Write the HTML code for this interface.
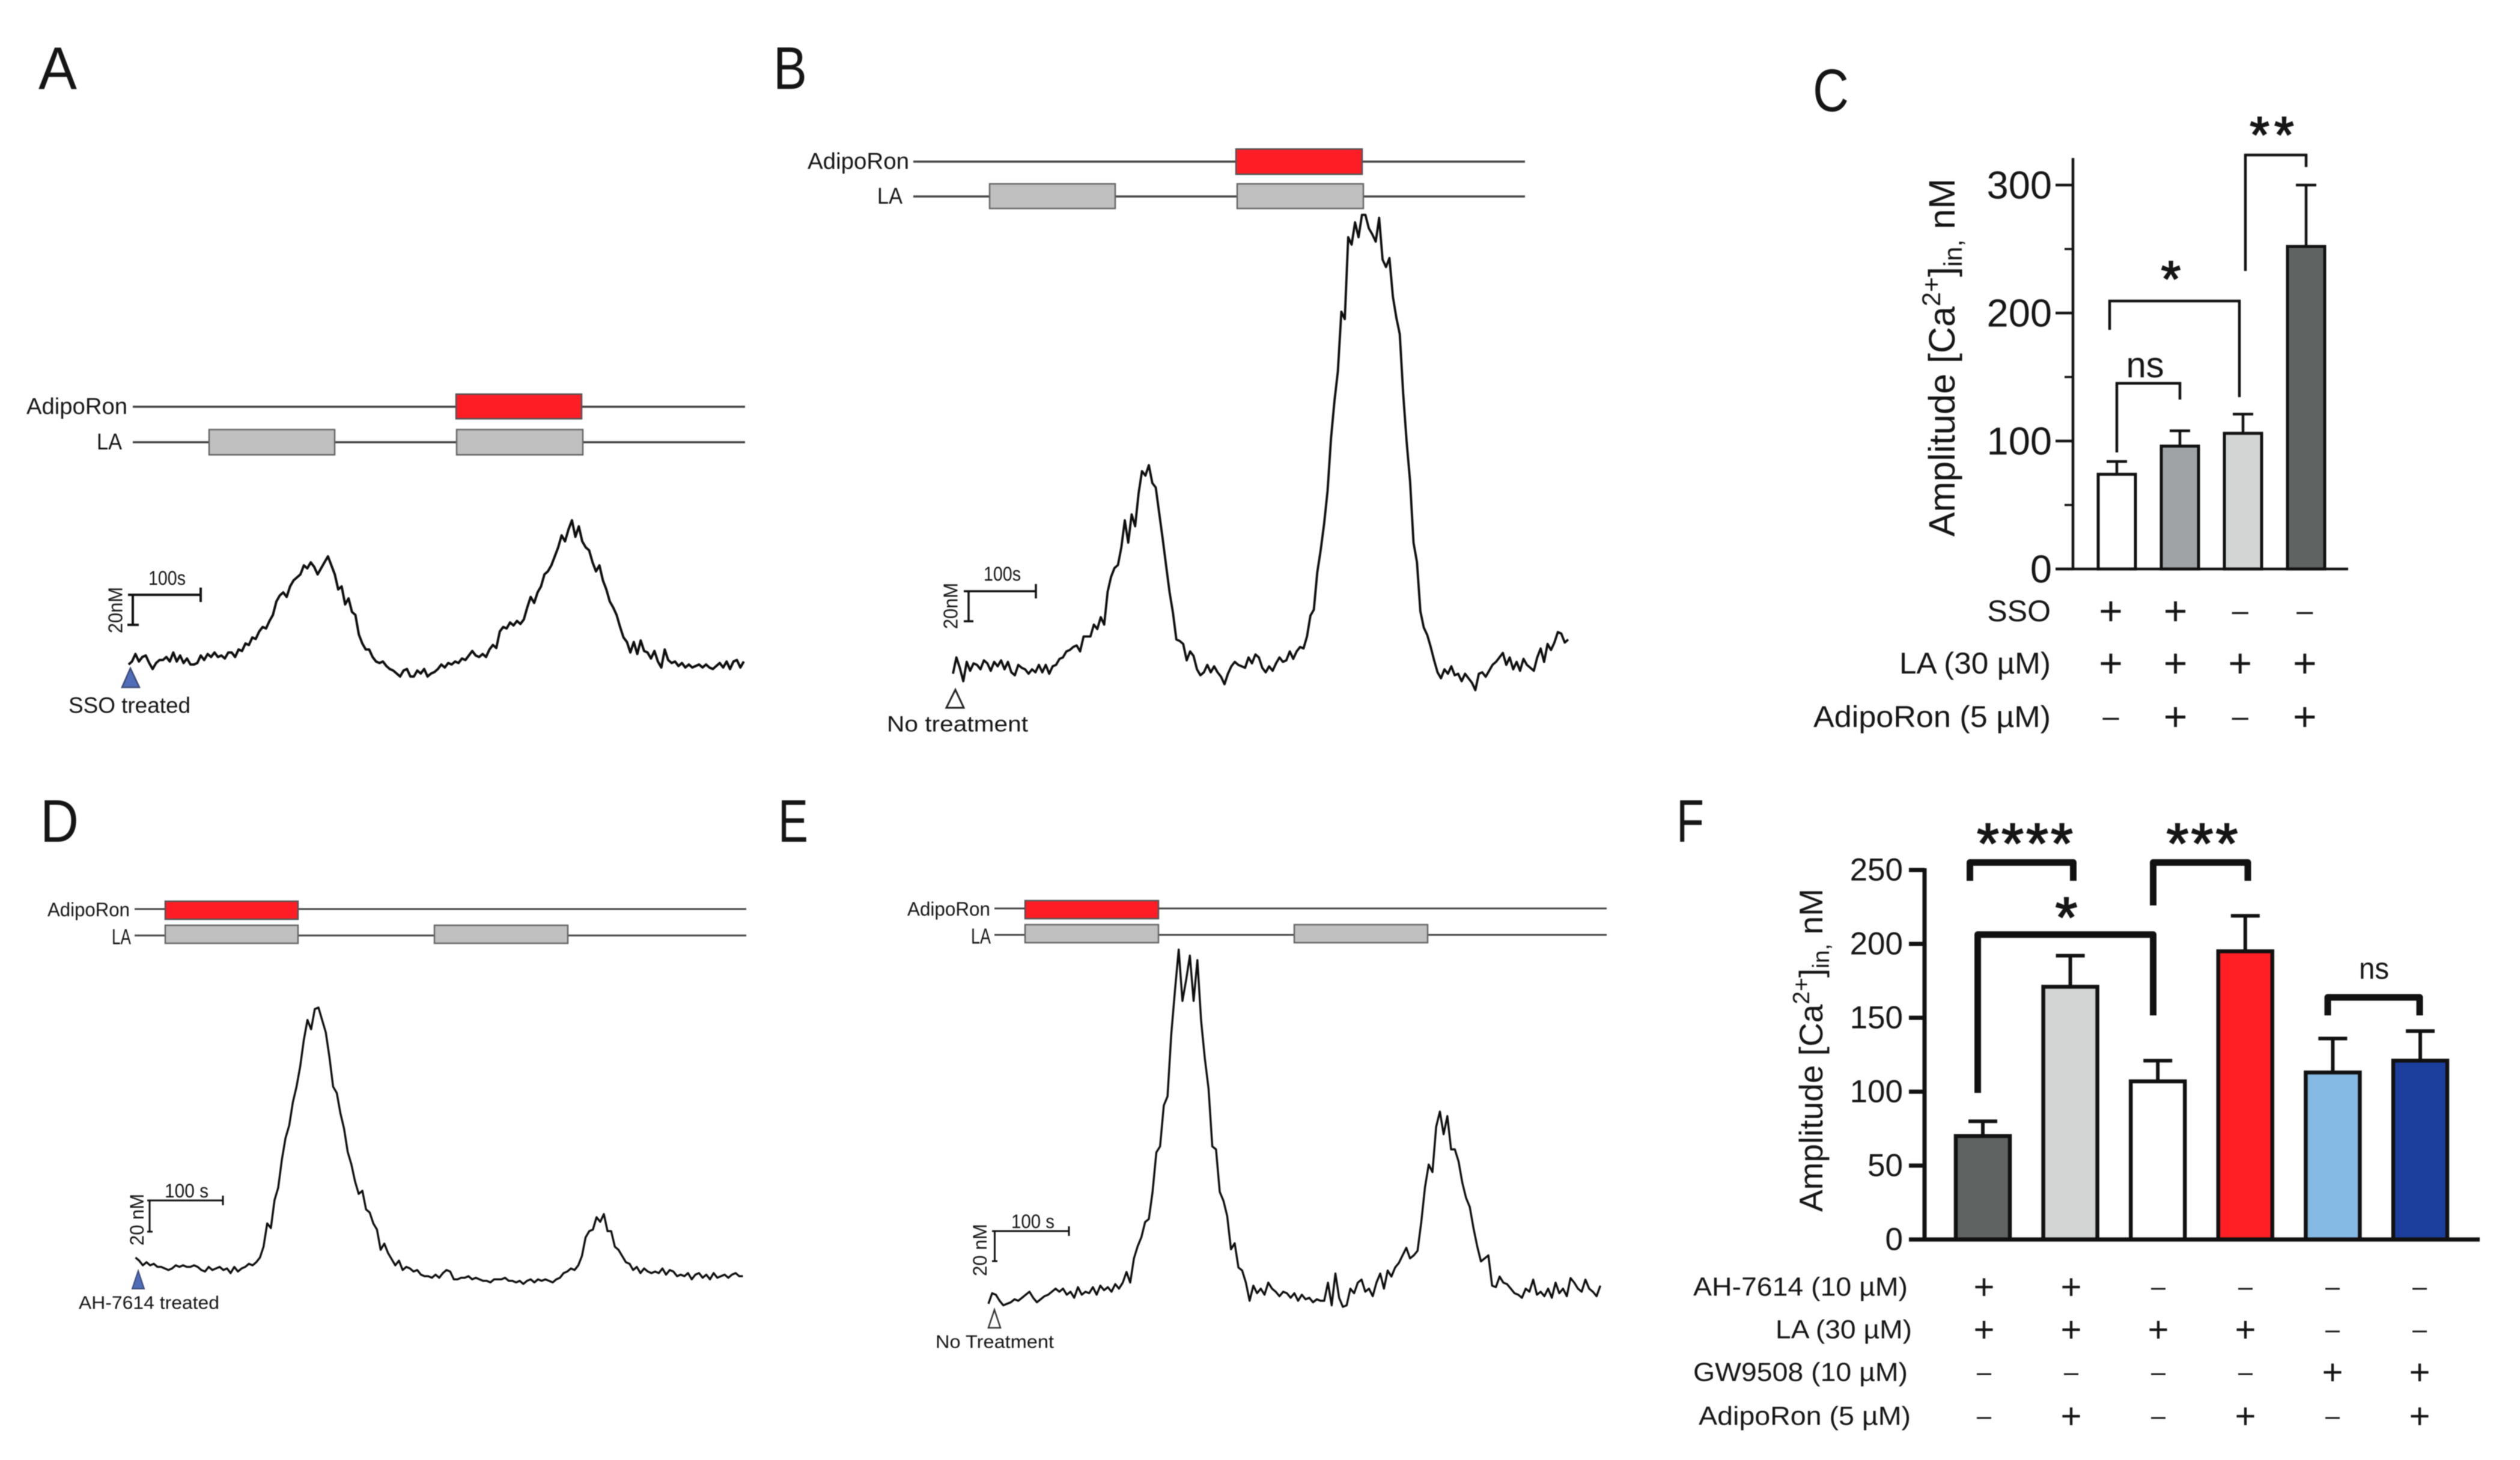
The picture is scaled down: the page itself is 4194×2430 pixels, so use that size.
<!DOCTYPE html>
<html lang="en">
<head>
<meta charset="utf-8">
<title>AdipoRon calcium response panels</title>
<style>
html,body{margin:0;padding:0;background:#fff;}
svg{display:block;filter:blur(0.7px);}
text{font-family:"Liberation Sans",sans-serif;fill:#151515;}
.lbl{dominant-baseline:central;}
.tline{stroke:#444;stroke-width:3.5;fill:none;}
.red{fill:#ff1d25;stroke:#555;stroke-width:2.5;}
.gry{fill:#c0c0c0;stroke:#666;stroke-width:2.5;}
.scale{stroke:#111;fill:none;}
.brk{fill:none;stroke:#111;}
.star{stroke:#151515;stroke-width:2;}
.trace{fill:none;stroke:#0d0d0d;stroke-linejoin:round;}
</style>
</head>
<body>
<svg id="fig" xmlns="http://www.w3.org/2000/svg" width="4194" height="2430" viewBox="0 0 4194 2430">
<rect width="4194" height="2430" fill="#fff"/>

<!-- Panel letters -->
<text x="64" y="148" font-size="100" textLength="64" lengthAdjust="spacingAndGlyphs">A</text>
<text x="1287" y="148" font-size="100" textLength="56" lengthAdjust="spacingAndGlyphs">B</text>
<text x="3017" y="185" font-size="100" textLength="60" lengthAdjust="spacingAndGlyphs">C</text>
<text x="67" y="1401" font-size="100" textLength="64" lengthAdjust="spacingAndGlyphs">D</text>
<text x="1295" y="1401" font-size="100" textLength="50" lengthAdjust="spacingAndGlyphs">E</text>
<text x="2790" y="1401" font-size="100" textLength="46" lengthAdjust="spacingAndGlyphs">F</text>

<!-- Panel A protocol -->
<g>
<line class="tline" x1="221" y1="677" x2="1240" y2="677"/>
<line class="tline" x1="221" y1="736" x2="1240" y2="736"/>
<rect class="red" x="759" y="656" width="209" height="41"/>
<rect class="gry" x="348" y="715" width="209" height="42"/>
<rect class="gry" x="760" y="715" width="210" height="42"/>
<text class="lbl" x="44" y="677" font-size="38" textLength="168" lengthAdjust="spacingAndGlyphs">AdipoRon</text>
<text class="lbl" x="161" y="736" font-size="38" textLength="42" lengthAdjust="spacingAndGlyphs">LA</text>
</g>
<g>
<path class="scale" stroke-width="4" d="M221 990V1040M212 1040H231M213 990H334M334 978V1002"/>
<text class="lbl" x="247" y="962" font-size="33" textLength="62" lengthAdjust="spacingAndGlyphs">100s</text>
<text class="lbl" transform="translate(192 1054) rotate(-90)" font-size="33" textLength="77" lengthAdjust="spacingAndGlyphs">20nM</text>
</g>
<path d="M217 1112L232 1144H203Z" fill="#4f6db8" stroke="#3a4a78" stroke-width="2.5"/>
<text class="lbl" x="114" y="1174" font-size="37" textLength="203" lengthAdjust="spacingAndGlyphs">SSO treated</text>

<!-- Panel B protocol -->
<g>
<line class="tline" x1="1520" y1="269" x2="2538" y2="269"/>
<line class="tline" x1="1520" y1="327" x2="2538" y2="327"/>
<rect class="red" x="2057" y="248" width="210" height="42"/>
<rect class="gry" x="1647" y="306" width="209" height="41"/>
<rect class="gry" x="2059" y="306" width="210" height="41"/>
<text class="lbl" x="1344" y="269" font-size="38" textLength="169" lengthAdjust="spacingAndGlyphs">AdipoRon</text>
<text class="lbl" x="1460" y="327" font-size="38" textLength="42" lengthAdjust="spacingAndGlyphs">LA</text>
</g>
<g>
<path class="scale" stroke-width="3.5" d="M1612 984V1034M1604 1034H1620M1604 984H1724M1724 972V996"/>
<text class="lbl" x="1637" y="955" font-size="33" textLength="62" lengthAdjust="spacingAndGlyphs">100s</text>
<text class="lbl" transform="translate(1582 1047) rotate(-90)" font-size="33" textLength="77" lengthAdjust="spacingAndGlyphs">20nM</text>
</g>
<path d="M1590 1148L1604 1178H1575Z" fill="#fff" stroke="#222" stroke-width="3"/>
<text class="lbl" x="1476" y="1205" font-size="37" textLength="235" lengthAdjust="spacingAndGlyphs">No treatment</text>

<!-- Panel D protocol -->
<g>
<line class="tline" x1="224" y1="1513" x2="1242" y2="1513" style="stroke-width:3"/>
<line class="tline" x1="224" y1="1557" x2="1242" y2="1557" style="stroke-width:3"/>
<rect class="red" x="275" y="1500" width="221" height="30"/>
<rect class="gry" x="275" y="1540" width="221" height="30"/>
<rect class="gry" x="723" y="1540" width="222" height="30"/>
<text class="lbl" x="79" y="1514" font-size="32" textLength="137" lengthAdjust="spacingAndGlyphs">AdipoRon</text>
<text class="lbl" x="186" y="1559" font-size="36" textLength="32" lengthAdjust="spacingAndGlyphs">LA</text>
</g>
<g>
<path class="scale" stroke-width="3" d="M249 1998V2050M245 2050H254M245 1998H371M371 1990V2006"/>
<text class="lbl" x="274" y="1982" font-size="32" textLength="73" lengthAdjust="spacingAndGlyphs">100 s</text>
<text class="lbl" transform="translate(228 2073) rotate(-90)" font-size="32" textLength="86" lengthAdjust="spacingAndGlyphs">20 nM</text>
</g>
<path d="M230 2115L240 2145H220Z" fill="#4f6db8" stroke="#3a4a78" stroke-width="2"/>
<text class="lbl" x="131" y="2168" font-size="31" textLength="234" lengthAdjust="spacingAndGlyphs">AH-7614 treated</text>

<!-- Panel E protocol -->
<g>
<line class="tline" x1="1655" y1="1512" x2="2674" y2="1512" style="stroke-width:3"/>
<line class="tline" x1="1655" y1="1556" x2="2674" y2="1556" style="stroke-width:3"/>
<rect class="red" x="1706" y="1499" width="222" height="30"/>
<rect class="gry" x="1706" y="1539" width="222" height="30"/>
<rect class="gry" x="2154" y="1539" width="222" height="30"/>
<text class="lbl" x="1510" y="1513" font-size="32" textLength="138" lengthAdjust="spacingAndGlyphs">AdipoRon</text>
<text class="lbl" x="1616" y="1558" font-size="36" textLength="33" lengthAdjust="spacingAndGlyphs">LA</text>
</g>
<g>
<path class="scale" stroke-width="3" d="M1655.5 2049V2099M1651 2099H1660M1651 2049H1779M1779 2041V2057"/>
<text class="lbl" x="1683" y="2033" font-size="32" textLength="72" lengthAdjust="spacingAndGlyphs">100 s</text>
<text class="lbl" transform="translate(1631 2124) rotate(-90)" font-size="32" textLength="87" lengthAdjust="spacingAndGlyphs">20 nM</text>
</g>
<path d="M1655 2180L1665 2210H1645Z" fill="#fff" stroke="#333" stroke-width="2.5"/>
<text class="lbl" x="1557" y="2233" font-size="31" textLength="197" lengthAdjust="spacingAndGlyphs">No Treatment</text>

<!-- Panel C annotations -->
<g>
<path class="brk" stroke-width="4.5" d="M3523 753V638H3628V665"/>
<path class="brk" stroke-width="4.5" d="M3511 549V501H3727V661"/>
<path class="brk" stroke-width="4.5" d="M3737 451V258H3838V278"/>
<text x="3570" y="628" font-size="60" text-anchor="middle">ns</text>
<text class="star" x="3613" y="493" font-size="84" text-anchor="middle">*</text>
<text class="star" x="3785" y="253" font-size="84" text-anchor="middle" letter-spacing="8">**</text>
<text transform="translate(3253 595) rotate(-90)" font-size="61" text-anchor="middle">Amplitude [Ca<tspan font-size="43" dy="-24">2+</tspan><tspan dy="24">]</tspan><tspan font-size="43" dy="12">in,</tspan><tspan dy="-12"> nM</tspan></text>
<text class="lbl" x="3413" y="1017" font-size="50" text-anchor="end">SSO</text>
<text class="lbl" x="3413" y="1104" font-size="50" text-anchor="end" textLength="252" lengthAdjust="spacingAndGlyphs">LA (30 µM)</text>
<text class="lbl" x="3413" y="1193" font-size="50" text-anchor="end" textLength="395" lengthAdjust="spacingAndGlyphs">AdipoRon (5 µM)</text>
</g>

<!-- Panel F annotations -->
<g>
<path class="brk" stroke-width="11" stroke-linejoin="round" d="M3278.5 1466V1435.5H3450.5V1466"/>
<path class="brk" stroke-width="11" stroke-linejoin="round" d="M3583.5 1507V1435.5H3741V1466"/>
<path class="brk" stroke-width="11" stroke-linejoin="round" d="M3291.5 1819V1555.5H3583.5V1690"/>
<path class="brk" stroke-width="11" stroke-linejoin="round" d="M3874 1690V1660H4027V1690"/>
<text class="star" x="3372" y="1436" font-size="95" text-anchor="middle" letter-spacing="4">****</text>
<text class="star" x="3667" y="1436" font-size="95" text-anchor="middle" letter-spacing="4">***</text>
<text class="star" x="3439" y="1559" font-size="95" text-anchor="middle">*</text>
<text class="lbl" x="3951" y="1612" font-size="50" text-anchor="middle" textLength="50" lengthAdjust="spacingAndGlyphs">ns</text>
<text transform="translate(3033 1748) rotate(-90)" font-size="55" text-anchor="middle">Amplitude [Ca<tspan font-size="39" dy="-22">2+</tspan><tspan dy="22">]</tspan><tspan font-size="39" dy="11">in,</tspan><tspan dy="-11"> nM</tspan></text>
<text class="lbl" x="3175" y="2142" font-size="44" text-anchor="end" textLength="357" lengthAdjust="spacingAndGlyphs">AH-7614 (10 µM)</text>
<text class="lbl" x="3182" y="2213" font-size="44" text-anchor="end" textLength="227" lengthAdjust="spacingAndGlyphs">LA (30 µM)</text>
<text class="lbl" x="3175" y="2284" font-size="44" text-anchor="end" textLength="357" lengthAdjust="spacingAndGlyphs">GW9508 (10 µM)</text>
<text class="lbl" x="3180" y="2357" font-size="44" text-anchor="end" textLength="353" lengthAdjust="spacingAndGlyphs">AdipoRon (5 µM)</text>
</g>
</svg>

<script>
// Calcium traces: nM above starting baseline, one reading every 5 s
const traceA = [0,2,7,2,5,6,1,-3,1,3, 3,5,2,8,2,6,1,4,0,0, 1,6,3,7,5,8,5,6,4,8, 8,5,10,9,14,13,18,17,22,25, 24,29,33,42,46,48,45,52,56,58, 60,66,64,68,65,60,64,68,72,66, 60,50,52,40,44,35,33,20,14,10, 10,5,2,1,2,-1,-3,-4,-6,-8, -4,-3,-8,-8,-4,-6,-3,-8,-6,-5, -3,0,-2,1,0,2,1,4,3,6, 9,6,5,7,5,10,13,11,22,25, 24,28,26,29,27,30,38,45,41,48, 52,60,62,66,72,78,86,82,90,96, 85,92,82,78,76,68,62,66,56,50, 42,38,33,25,18,15,8,15,7,16, 9,8,4,9,2,-2,10,3,1,2, -1,1,-2,0,-2,-1,0,-2,0,-2, -3,-1,1,-2,2,-3,2,3,-2,2];
const traceB = [-3,8,1,-8,5,-1,4,3,0,6, 4,-1,5,2,6,0,5,-2,-4,3, 1,0,-3,0,-2,3,-2,3,-3,2, 3,7,8,12,13,15,16,12,22,22, 22,30,27,35,30,52,62,68,70,82, 100,85,104,96,118,133,130,137,125,122, 105,88,70,52,38,20,19,17,6,12, 9,0,-4,-2,3,-2,2,-2,-5,-10, -3,2,5,3,2,1,8,4,10,8, 1,-2,2,-1,4,8,5,6,12,7, 12,15,14,22,36,40,65,80,98,120, 155,180,200,240,235,290,285,300,290,305, 305,296,292,287,303,275,270,276,250,236, 225,185,153,126,85,72,39,28,23,15, 6,-2,-6,0,-3,2,-4,-3,-8,-3, -6,-9,-14,-3,-2,-5,-1,3,5,8, 11,3,8,0,5,-1,7,3,1,-1, 8,14,5,17,13,18,25,24,18,20];
const traceD = [5,3,0,2,0,1,-1,-1,-2,-3, -2,0,-1,0,-1,-1,0,-1,-3,-4, -1,-3,-2,-1,-3,-2,-5,-1,-4,-2, -1,1,0,2,5,12,27,24,42,50, 68,82,90,105,115,128,145,158,152,165, 166,158,150,134,115,111,98,88,73,65, 54,46,48,36,34,27,23,10,14,8, 4,0,3,-3,-1,-2,-4,-3,-6,-7, -7,-8,-6,-8,-5,-3,-4,-9,-9,-8, -8,-7,-9,-8,-9,-10,-10,-11,-9,-9, -9,-8,-10,-10,-11,-10,-12,-10,-9,-11, -9,-10,-9,-10,-11,-9,-8,-5,-4,-2, -3,0,6,18,22,23,31,28,33,22, 22,12,10,6,2,1,-3,-1,-5,-2, -4,-5,-4,-5,-2,-6,-3,-4,-7,-6, -7,-5,-9,-6,-5,-8,-6,-9,-5,-8, -7,-6,-8,-6,-5,-7,-7];
const traceE = [-2,5,4,0,-3,-2,-1,1,0,2, 4,6,2,-1,1,3,4,6,8,6, 8,4,6,2,9,4,6,5,9,4, 10,7,9,6,11,8,12,19,12,28, 36,42,52,54,72,98,102,129,135,176, 205,232,198,212,228,198,225,185,160,140, 102,100,72,66,56,34,38,22,20,12, 0,10,5,8,4,12,8,6,3,6, 5,2,5,0,4,1,2,-1,1,0, 0,12,-3,18,2,-4,-3,8,5,12, 14,6,8,3,12,18,8,20,16,22, 25,30,35,28,30,33,52,75,90,85, 115,125,110,122,100,100,92,78,68,62, 48,36,26,28,30,10,9,16,12,11, 8,5,4,2,8,6,14,4,6,3, 8,2,12,5,8,3,15,12,8,6, 14,8,6,3,10];

// Panel C bar chart
const barCategoriesC = ['SSO+LA','SSO+LA+AdipoRon','LA','LA+AdipoRon'];
const barValuesC = [74,96,106,252];
const barErrorTopsC = [84,108,121,300];
const majorTicksC = [0,100,200,300];
const minorTicksC = [50,150,250];
const signsC = [['+','+','-','-'],['+','+','+','+'],['-','+','-','+']];

// Panel F bar chart
const barCategoriesF = ['AH-7614+LA','AH-7614+LA+AdipoRon','LA','LA+AdipoRon','GW9508','GW9508+AdipoRon'];
const barValuesF = [70,171,107,195,113,121];
const barErrorTopsF = [80,192,121,219,136,141];
const majorTicksF = [0,50,100,150,200,250];
const signsF = [['+','+','-','-','-','-'],['+','+','+','+','-','-'],['-','-','-','-','+','+'],['-','+','-','+','-','+']];

const SVG_NS = 'http://www.w3.org/2000/svg';
const fig = document.getElementById('fig');

function make(tag, parent, attrs, content) {
  const el = document.createElementNS(SVG_NS, tag);
  for (const k in attrs) el.setAttribute(k, attrs[k]);
  if (content !== undefined) el.textContent = content;
  parent.appendChild(el);
  return el;
}

function drawTrace(values, name, x0, pxPerPoint, baseY, pxPerNM, width) {
  const xAt = function (i) { return x0 + i * pxPerPoint; };
  const yAt = function (v) { return baseY - v * pxPerNM; };
  const d = values.map(function (v, i) {
    return (i ? 'L' : 'M') + xAt(i).toFixed(1) + ' ' + yAt(v).toFixed(1);
  }).join('');
  const el = make('path', fig, { 'class': 'trace', d: d, 'stroke-width': width });
  
  
}

function drawBarChart(cfg) {
  const yAt = function (v) { return cfg.baseY - v * cfg.pxPerUnit; };
  const xAt = function (i) { return cfg.firstX + i * cfg.stepX; };
  const g = make('g', fig, {});
  
  

  cfg.values.forEach(function (v, i) {
    const cx = xAt(i);
    const stem = make('path', g, {
      d: 'M' + cx + ' ' + yAt(v) + 'V' + yAt(cfg.tops[i]) + 'M' + (cx - cfg.capW / 2) + ' ' + yAt(cfg.tops[i]) + 'H' + (cx + cfg.capW / 2),
      stroke: '#111', 'stroke-width': cfg.errW, fill: 'none'
    });
    
    
    const bar = make('rect', g, {
      x: cx - cfg.barW / 2, y: yAt(v), width: cfg.barW, height: cfg.baseY - yAt(v),
      fill: cfg.colors[i], stroke: '#111', 'stroke-width': cfg.barStroke
    });
    
    
  });

  const axis = make('path', g, {
    d: 'M' + cfg.axisX + ' ' + cfg.axisTop + 'V' + cfg.baseY + 'M' + cfg.tickStart + ' ' + cfg.baseY + 'H' + cfg.axisEnd,
    stroke: '#111', 'stroke-width': cfg.axisW, fill: 'none'
  });
  
  

  cfg.major.forEach(function (t) {
    const tick = make('line', g, { x1: cfg.tickStart, x2: cfg.axisX, y1: yAt(t), y2: yAt(t), stroke: '#111', 'stroke-width': cfg.axisW });
    
    
    const lab = make('text', g, { 'class': 'lbl', x: cfg.tickStart - cfg.labelGap, y: yAt(t), 'text-anchor': 'end', 'font-size': cfg.tickFont }, String(t));
    
    
  });
  cfg.minor.forEach(function (t) {
    const tick = make('line', g, { x1: cfg.axisX - 14, x2: cfg.axisX, y1: yAt(t), y2: yAt(t), stroke: '#111', 'stroke-width': cfg.axisW - 1 });
    
    
  });

  cfg.signs.forEach(function (row, r) {
    row.forEach(function (s, c) {
      const t = make('text', g, {
        'class': 'lbl', x: cfg.signFirstX + c * cfg.signStepX, y: cfg.signRows[r], 'text-anchor': 'middle', 'font-size': cfg.signFont
      }, s === '-' ? '\u2013' : '+');
      if (s === '-') t.setAttribute('font-size', cfg.signFont * 0.72);
      
      
    });
  });
}

drawTrace(traceA, 'trace-a', 214, 5.72, 1106, 2.5, 4);
drawTrace(traceB, 'trace-b', 1586, 5.72, 1114, 2.48, 3.8);
drawTrace(traceD, 'trace-d', 225.5, 6.09, 2106, 2.585, 3.4);
drawTrace(traceE, 'trace-e', 1645, 6.21, 2165, 2.52, 3.4);

drawBarChart({
  name: 'panel-c-bar-chart', values: barValuesC, tops: barErrorTopsC, categories: barCategoriesC,
  major: majorTicksC, minor: minorTicksC, signs: signsC,
  colors: ['#ffffff', '#a0a3a6', '#d2d5d3', '#5f6362'],
  baseY: 947, pxPerUnit: 2.13, firstX: 3523, stepX: 105, barW: 62, capW: 34, errW: 4.5, barStroke: 5,
  axisX: 3450, axisTop: 263, axisEnd: 3908, tickStart: 3421, axisW: 4.5, labelGap: 6, tickFont: 65,
  signFirstX: 3513, signStepX: 107.6, signRows: [1017, 1104, 1193], signFont: 68
});

drawBarChart({
  name: 'panel-f-bar-chart', values: barValuesF, tops: barErrorTopsF, categories: barCategoriesF,
  major: majorTicksF, minor: [], signs: signsF,
  colors: ['#5f6362', '#d2d5d3', '#ffffff', '#ff1f24', '#85bae5', '#1c3f9e'],
  baseY: 2063, pxPerUnit: 2.46, firstX: 3300, stepX: 145.6, barW: 90, capW: 48, errW: 6, barStroke: 6.5,
  axisX: 3203, axisTop: 1445, axisEnd: 4127, tickStart: 3177, axisW: 7, labelGap: 10, tickFont: 53,
  signFirstX: 3302, signStepX: 145, signRows: [2142, 2213, 2284, 2357], signFont: 60
});
</script>
</body>
</html>
